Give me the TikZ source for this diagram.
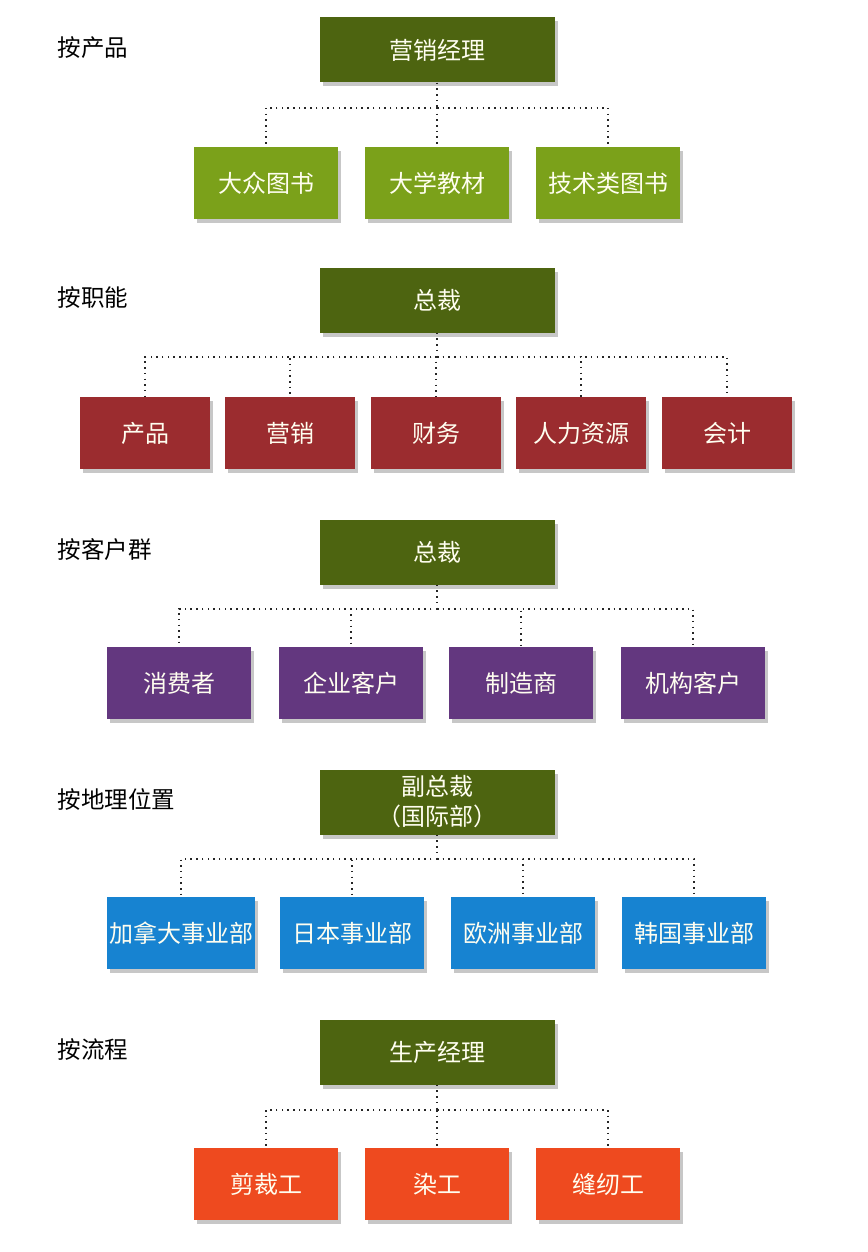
\documentclass[tikz,border=0pt]{standalone}
\usepackage{fontspec}
\setmainfont{Noto Sans CJK SC}
\usepackage{xcolor}
\usetikzlibrary{positioning,shadows}
\definecolor{headgreen}{HTML}{4D6410}
\definecolor{leafgreen}{HTML}{7BA11A}
\definecolor{leafred}{HTML}{9B2C2F}
\definecolor{leafpurple}{HTML}{63377F}
\definecolor{leafblue}{HTML}{1783D1}
\definecolor{leaforange}{HTML}{EE4A1F}
\tikzset{
  orgbox/.style={minimum height=65pt, inner sep=2pt, text=white!94!yellow, font=\fontsize{24}{29}\selectfont,
    drop shadow={shadow xshift=3pt, shadow yshift=-4pt, opacity=0.22, fill=black}},
  headbox/.style={orgbox, fill=headgreen, minimum width=235pt},
  leafbox/.style={orgbox, minimum width=144pt, minimum height=72pt},
  greenleaf/.style={leafbox, fill=leafgreen},
  redleaf/.style={leafbox, fill=leafred, minimum width=130pt},
  purpleleaf/.style={leafbox, fill=leafpurple},
  blueleaf/.style={leafbox, fill=leafblue},
  orangeleaf/.style={leafbox, fill=leaforange},
  grouplabel/.style={anchor=west, font=\fontsize{23.5}{28}\selectfont},
  dotline/.style={line width=1.5pt, dash pattern=on 1.5pt off 4.2pt, draw=black!85}
}

\begin{document}
\begin{tikzpicture}[x=1pt, y=-1pt]
  \useasboundingbox (0,0) rectangle (867,1252);

  % 按产品
  \node[grouplabel] (lab1) at (54,48) {按产品};
  \node[headbox] (mgr) at (437,50) {营销经理};
  \node[greenleaf] (pop) at (266,183) {大众图书};
  \node[greenleaf] (text) at (437,183) {大学教材};
  \node[greenleaf] (tech) at (608,183) {技术类图书};
  \coordinate (bus1) at (437,108);
  \draw[dotline] (mgr.south) -- (bus1);
  \foreach \c in {pop,text,tech} \draw[dotline] (bus1) -| (\c.north);

  % 按职能
  \node[grouplabel] (lab2) at (54,298) {按职能};
  \node[headbox] (pres1) at (437,300) {总裁};
  \node[redleaf] (prod) at (145,433) {产品};
  \node[redleaf] (mkt) at (290,433) {营销};
  \node[redleaf] (fin) at (436,433) {财务};
  \node[redleaf] (hr) at (581,433) {人力资源};
  \node[redleaf] (acct) at (727,433) {会计};
  \coordinate (bus2) at (437,357);
  \draw[dotline] (pres1.south) -- (bus2);
  \foreach \c in {prod,mkt,fin,hr,acct} \draw[dotline] (bus2) -| (\c.north);

  % 按客户群
  \node[grouplabel] (lab3) at (54,550) {按客户群};
  \node[headbox] (pres2) at (437,552) {总裁};
  \node[purpleleaf] (cons) at (179,683) {消费者};
  \node[purpleleaf] (corp) at (351,683) {企业客户};
  \node[purpleleaf] (manu) at (521,683) {制造商};
  \node[purpleleaf] (inst) at (693,683) {机构客户};
  \coordinate (bus3) at (437,609);
  \draw[dotline] (pres2.south) -- (bus3);
  \foreach \c in {cons,corp,manu,inst} \draw[dotline] (bus3) -| (\c.north);

  % 按地理位置
  \node[grouplabel] (lab4) at (54,800) {按地理位置};
  \node[headbox, align=center, font=\fontsize{24}{30}\selectfont] (vp) at (437,802) {副总裁\\（国际部）};
  \node[blueleaf] (can) at (181,933) {加拿大事业部};
  \node[blueleaf] (jpn) at (352,933) {日本事业部};
  \node[blueleaf] (eur) at (523,933) {欧洲事业部};
  \node[blueleaf] (kor) at (694,933) {韩国事业部};
  \coordinate (bus4) at (437,859);
  \draw[dotline] (vp.south) -- (bus4);
  \foreach \c in {can,jpn,eur,kor} \draw[dotline] (bus4) -| (\c.north);

  % 按流程
  \node[grouplabel] (lab5) at (54,1050) {按流程};
  \node[headbox] (pmgr) at (437,1052) {生产经理};
  \node[orangeleaf] (cut) at (266,1184) {剪裁工};
  \node[orangeleaf] (dye) at (437,1184) {染工};
  \node[orangeleaf] (sew) at (608,1184) {缝纫工};
  \coordinate (bus5) at (437,1110);
  \draw[dotline] (pmgr.south) -- (bus5);
  \foreach \c in {cut,dye,sew} \draw[dotline] (bus5) -| (\c.north);
\end{tikzpicture}
\end{document}
